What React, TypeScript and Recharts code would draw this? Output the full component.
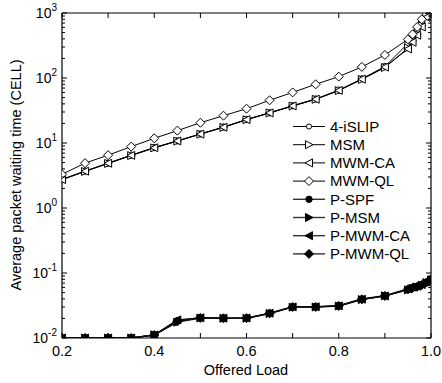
import { LineChart, Line, XAxis, YAxis, Legend } from "recharts";

const LOAD = [0.2, 0.25, 0.3, 0.35, 0.4, 0.45, 0.5, 0.55, 0.6, 0.65, 0.7, 0.75, 0.8, 0.85, 0.9, 0.95, 0.96, 0.97, 0.98, 0.99, 1.0];

const ISLIP4 = [2.76, 3.7, 4.9, 6.5, 8.5, 10.8, 13.8, 17.6, 23, 29.2, 37.5, 47.5, 65, 97, 150, 340, 430, 560, 750, 1100, null];
const MSM = [2.72, 3.65, 4.85, 6.4, 8.4, 10.7, 13.7, 17.4, 22.8, 29, 37, 47, 64, 95, 145, 290, 370, 470, 640, 900, 1400];
const MWM_CA = [2.74, 3.68, 4.88, 6.45, 8.45, 10.75, 13.7, 17.5, 22.9, 29, 37.2, 47.2, 64.5, 96, 147, 280, 355, 455, 610, 860, 1300];
const MWM_QL = [3.3, 4.9, 6.5, 8.8, 11.8, 15.5, 20.5, 26.3, 33.7, 45.4, 60, 80, 105, 148, 226, 394, 470, 610, 800, 1150, null];
const P_SPF = [0.01, 0.01, 0.01, 0.01, 0.0111, 0.0185, 0.0205, 0.0202, 0.0202, 0.024, 0.0303, 0.0303, 0.0314, 0.0398, 0.0447, 0.0568, 0.06, 0.062, 0.066, 0.072, 0.08];
const P_MSM = [0.01, 0.01, 0.01, 0.01, 0.0112, 0.0175, 0.0203, 0.0201, 0.0201, 0.0238, 0.0298, 0.03, 0.031, 0.039, 0.0445, 0.055, 0.058, 0.061, 0.065, 0.071, 0.078];
const P_MWM_CA = [0.01, 0.01, 0.01, 0.01, 0.0111, 0.019, 0.0204, 0.0202, 0.0203, 0.0241, 0.0301, 0.0302, 0.0312, 0.0395, 0.0442, 0.0572, 0.0605, 0.0625, 0.0665, 0.073, 0.081];
const P_MWM_QL = [0.01, 0.01, 0.01, 0.01, 0.0111, 0.018, 0.0204, 0.0201, 0.0202, 0.0239, 0.03, 0.0301, 0.0312, 0.0393, 0.0444, 0.056, 0.059, 0.0615, 0.0655, 0.0715, 0.079];

const X_TICKS = [0.2, 0.3, 0.4, 0.5, 0.6, 0.7, 0.8, 0.9, 1.0];
const DECADES = [-2, -1, 0, 1, 2, 3];

const FONT = "'Liberation Sans', Arial, Helvetica, sans-serif";

const yTicks: number[] = [];
DECADES.forEach((d) => {
  yTicks.push(Math.pow(10, d));
  if (d < 3) for (let m = 2; m <= 9; m++) yTicks.push(m * Math.pow(10, d));
});

const SERIES = [
  { key: "islip", name: "4-iSLIP", values: ISLIP4, shape: "circle", filled: false },
  { key: "msm", name: "MSM", values: MSM, shape: "right", filled: false },
  { key: "mwmca", name: "MWM-CA", values: MWM_CA, shape: "left", filled: false },
  { key: "mwmql", name: "MWM-QL", values: MWM_QL, shape: "diamond", filled: false },
  { key: "pspf", name: "P-SPF", values: P_SPF, shape: "circle", filled: true },
  { key: "pmsm", name: "P-MSM", values: P_MSM, shape: "right", filled: true },
  { key: "pmwmca", name: "P-MWM-CA", values: P_MWM_CA, shape: "left", filled: true },
  { key: "pmwmql", name: "P-MWM-QL", values: P_MWM_QL, shape: "diamond", filled: true },
];

const data = LOAD.map((x, i) => {
  const row: any = { x };
  SERIES.forEach((s) => {
    if (s.values[i] != null) row[s.key] = s.values[i];
  });
  return row;
});

function Marker({ cx, cy, shape, filled, small }: any) {
  const fill = filled ? "#000" : "#fff";
  const s = small ? 0.8 : 1;
  if (shape === "circle") return <circle cx={cx} cy={cy} r={3.2 * s} fill={fill} stroke="#000" strokeWidth={1} />;
  if (shape === "diamond") {
    const h = 4.5 * s;
    return <polygon points={`${cx},${cy - h} ${cx + h},${cy} ${cx},${cy + h} ${cx - h},${cy}`} fill={fill} stroke="#000" strokeWidth={1} />;
  }
  const d = shape === "right" ? 1 : -1;
  const a = 3.5 * s;
  const b = 4 * s;
  return <polygon points={`${cx - d * a},${cy - b} ${cx + d * b},${cy} ${cx - d * a},${cy + b}`} fill={fill} stroke="#000" strokeWidth={1} />;
}

const isMajorY = (v: number) => Math.abs(Math.log10(v) - Math.round(Math.log10(v))) < 1e-9;

const BottomTick = ({ x, y, payload }: any) => {
  const v = payload.value;
  const major = Math.round(v * 10) % 2 === 0;
  return (
    <g>
      <line x1={x} x2={x} y1={y} y2={y - 5} stroke="#000" />
      {major && (
        <text x={x} y={y + 18} textAnchor="middle" fontSize={14.5} fontFamily={FONT} fill="#000">
          {v.toFixed(1)}
        </text>
      )}
    </g>
  );
};

const TopTick = ({ x, y }: any) => <line x1={x} x2={x} y1={y} y2={y + 5} stroke="#000" />;

const LeftTick = ({ x, y, payload }: any) => {
  const v = payload.value;
  const major = isMajorY(v);
  return (
    <g>
      <line x1={x} x2={x + (major ? 5 : 3)} y1={y} y2={y} stroke="#000" />
      {major && (
        <text x={x - 5} y={y + 5} textAnchor="end" fontSize={14} fontFamily={FONT} fill="#000">
          10<tspan dy={-7} fontSize={10}>{Math.round(Math.log10(v))}</tspan>
        </text>
      )}
    </g>
  );
};

const RightTick = ({ x, y, payload }: any) => {
  const major = isMajorY(payload.value);
  return <line x1={x} x2={x - (major ? 5 : 3)} y1={y} y2={y} stroke="#000" />;
};

const LegendBox = () => (
  <svg width={150} height={150} style={{ display: "block" }}>
    {SERIES.map((s, i) => {
      const cy = 9.5 + i * 18.2;
      return (
        <g key={s.key}>
          <line x1={3} x2={35} y1={cy} y2={cy} stroke={s.filled ? "#333" : "#000"} strokeWidth={s.filled ? 1.4 : 1} />
          <Marker cx={19} cy={cy} shape={s.shape} filled={s.filled} small={s.shape === "circle" && !s.filled} />
          <text x={40} y={cy + 5.3} fontSize={15} fontFamily={FONT} fill="#000">
            {s.name}
          </text>
        </g>
      );
    })}
  </svg>
);

export default function App() {
  return (
    <div style={{ position: "absolute", left: 0, top: 0, background: "#fff" }}>
      <LineChart width={442} height={383} data={data} margin={{ top: 0, right: 0, bottom: 0, left: 0 }}>
        <XAxis
          xAxisId="bottom"
          dataKey="x"
          type="number"
          domain={[0.2, 1.0]}
          ticks={X_TICKS}
          allowDataOverflow
          height={45}
          tickSize={0}
          tickMargin={0}
          tickLine={false}
          axisLine={{ stroke: "#000", strokeWidth: 1.2 }}
          tick={<BottomTick />}
          interval={0}
          label={{
            content: () => (
              <text x={246} y={375} textAnchor="middle" fontSize={14.5} fontFamily={FONT} fill="#000">
                Offered Load
              </text>
            ),
          }}
        />
        <XAxis
          xAxisId="top"
          orientation="top"
          dataKey="x"
          type="number"
          domain={[0.2, 1.0]}
          ticks={X_TICKS}
          allowDataOverflow
          height={13}
          tickSize={0}
          tickMargin={0}
          tickLine={false}
          axisLine={{ stroke: "#000", strokeWidth: 1.2 }}
          tick={<TopTick />}
          interval={0}
        />
        <YAxis
          yAxisId="left"
          type="number"
          scale="log"
          domain={[0.01, 1000]}
          ticks={yTicks}
          allowDataOverflow
          width={62}
          tickSize={0}
          tickMargin={0}
          tickLine={false}
          axisLine={{ stroke: "#000", strokeWidth: 1.2 }}
          tick={<LeftTick />}
          interval={0}
          label={{
            content: () => (
              <text transform="rotate(-90)" x={-175} y={21} textAnchor="middle" fontSize={14.5} fontFamily={FONT} fill="#000">
                Average packet waiting time (CELL)
              </text>
            ),
          }}
        />
        <YAxis
          yAxisId="right"
          orientation="right"
          type="number"
          scale="log"
          domain={[0.01, 1000]}
          ticks={yTicks}
          allowDataOverflow
          width={11}
          tickSize={0}
          tickMargin={0}
          tickLine={false}
          axisLine={{ stroke: "#000", strokeWidth: 1.2 }}
          tick={<RightTick />}
          interval={0}
        />
        <Legend
          layout="vertical"
          align="center"
          verticalAlign="middle"
          wrapperStyle={{ top: 117, left: 290, width: 150 }}
          content={() => <LegendBox />}
        />
        {SERIES.map((s) => (
          <Line
            key={s.key}
            xAxisId="bottom"
            yAxisId="left"
            dataKey={s.key}
            name={s.name}
            stroke={s.filled ? "#111" : "#000"}
            strokeWidth={s.filled ? 1.3 : 1}
            isAnimationActive={false}
            dot={(p: any) =>
              p.cy == null || p.value == null ? (
                <g key={p.key} />
              ) : (
                <Marker key={p.key} cx={p.cx} cy={p.cy} shape={s.shape} filled={s.filled} />
              )
            }
            activeDot={false}
          />
        ))}
      </LineChart>
    </div>
  );
}
